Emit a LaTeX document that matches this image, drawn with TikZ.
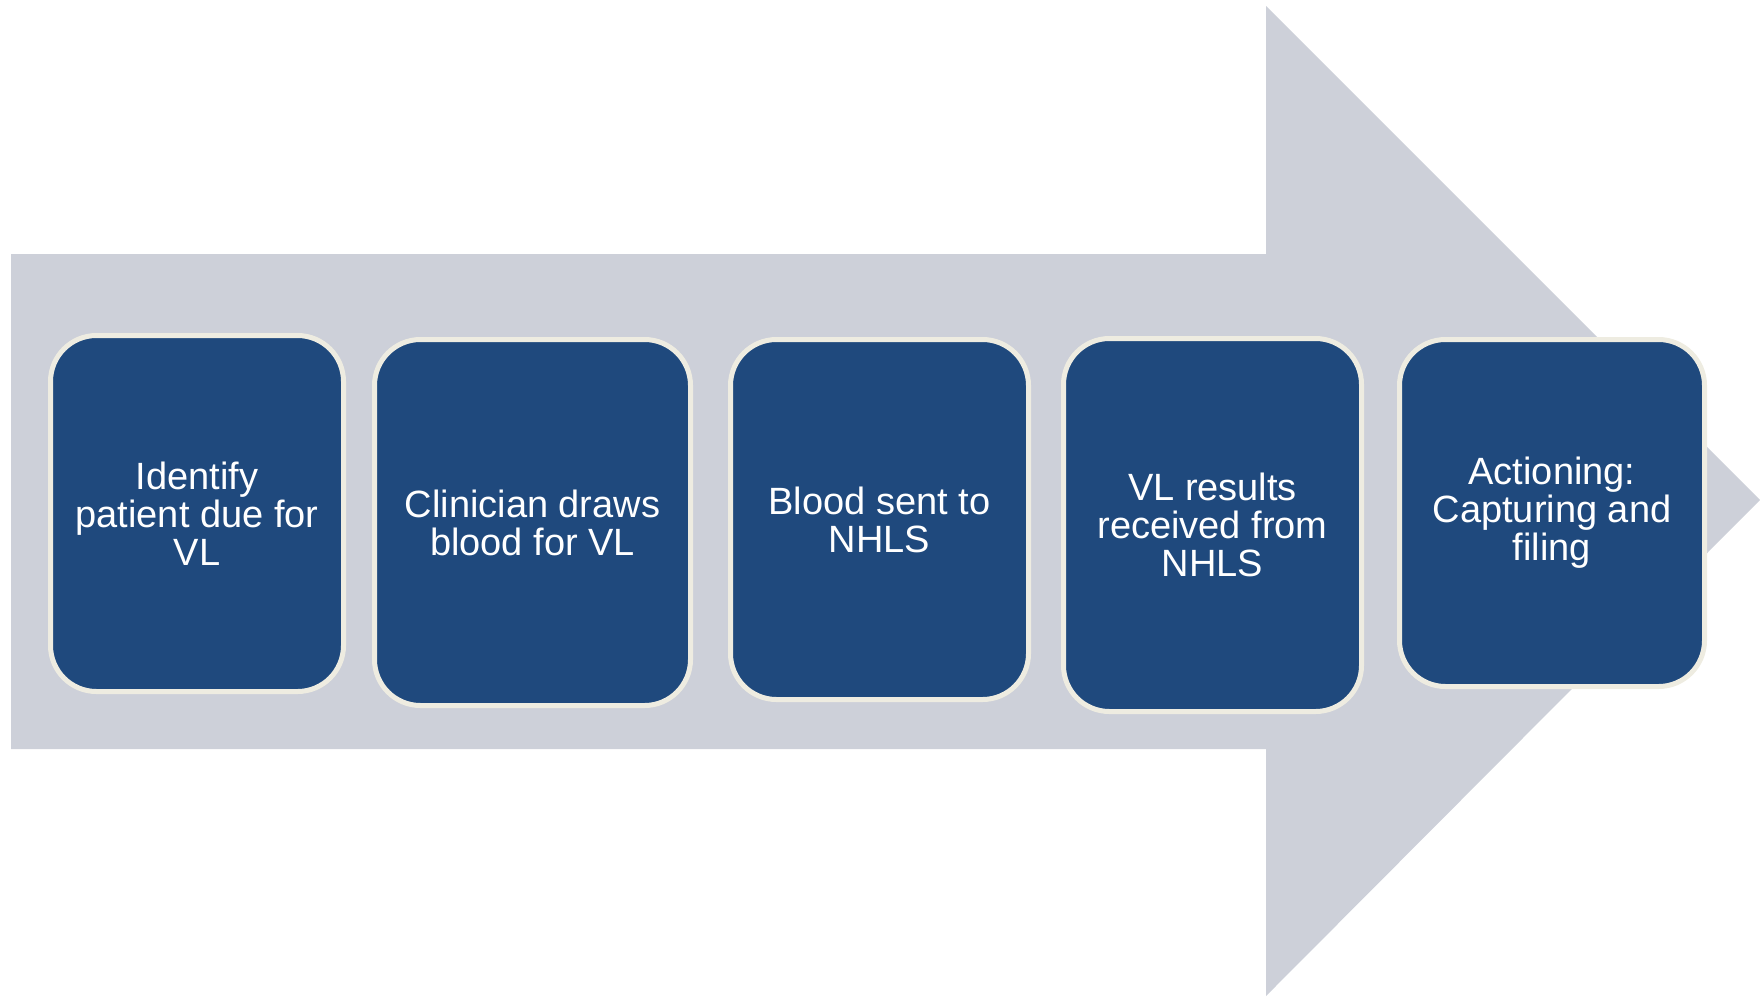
\documentclass[tikz,border=0pt]{standalone}
\usepackage{fontspec}
\setmainfont{Liberation Sans}
\definecolor{arrowgrey}{RGB}{205,208,217}
\definecolor{boxblue}{RGB}{31,73,125}
\definecolor{boxrim}{RGB}{238,236,225}
\begin{document}
\begin{tikzpicture}[x=1pt,y=-1pt,
  stepbox/.style={draw=boxrim, line width=5pt, fill=boxblue, rounded corners=46pt,
    text=white, align=center, inner sep=0pt, outer sep=0pt,
    font=\fontsize{38pt}{38pt}\selectfont}]
\useasboundingbox (0,0) rectangle (1760,997);
\fill[arrowgrey] (11,254) -- (1266,254) -- (1266,6) -- (1760,500) -- (1266,996) -- (1266,749) -- (11,749) -- cycle;
\node[stepbox, minimum width=293pt, minimum height=356pt] (s1) at (197,513.5) {Identify\\patient due for\\VL};
\node[stepbox, minimum width=316pt, minimum height=366pt] (s2) at (532.5,522.5) {Clinician draws\\blood for VL};
\node[stepbox, minimum width=298pt, minimum height=360pt] (s3) at (879.5,519.5) {Blood sent to\\NHLS};
\node[stepbox, minimum width=298pt, minimum height=373pt] (s4) at (1212.5,525) {VL results\\received from\\NHLS};
\node[stepbox, minimum width=305pt, minimum height=347pt] (s5) at (1552,513) {Actioning:\\Capturing and\\filing};
\end{tikzpicture}
\end{document}
